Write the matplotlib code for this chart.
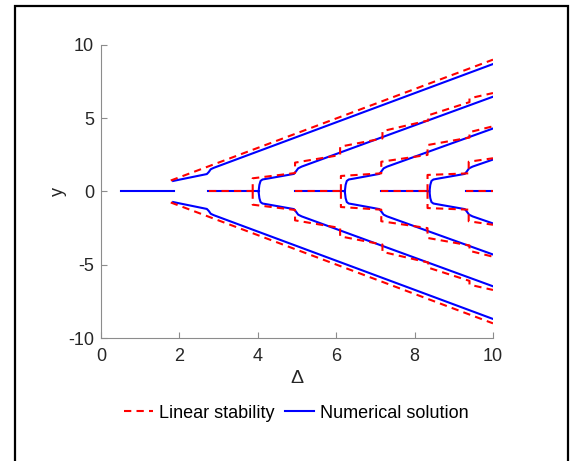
import numpy as np
import matplotlib.pyplot as plt
from matplotlib.patches import Rectangle

plt.rcParams['font.family'] = ['Liberation Sans', 'DejaVu Sans']
plt.rcParams['axes.unicode_minus'] = False

# numerical solution, upper halves of the branches (lower halves are mirrored)
blue_A_x = [1.84, 2.70, 2.75, 2.80, 2.88, 10.0]
blue_A_y = [0.72, 1.19, 1.33, 1.52, 1.62, 8.70]
blue_B_x = [4.02, 4.04, 4.07, 4.12, 4.25, 4.92, 4.97, 5.03, 5.12, 10.0]
blue_B_y = [0.00, 0.45, 0.72, 0.82, 0.88, 1.20, 1.36, 1.58, 1.70, 6.47]
blue_C_x = [6.22, 6.24, 6.27, 6.32, 6.45, 7.10, 7.15, 7.21, 7.30, 10.0]
blue_C_y = [0.00, 0.45, 0.72, 0.82, 0.88, 1.20, 1.36, 1.58, 1.70, 4.30]
blue_D_x = [8.38, 8.40, 8.43, 8.48, 8.60, 9.28, 9.33, 9.39, 9.48, 10.0]
blue_D_y = [0.00, 0.45, 0.72, 0.82, 0.88, 1.20, 1.36, 1.58, 1.70, 2.18]
blue_zero = [(0.5, 1.86), (2.74, 4.02), (4.96, 6.22), (7.14, 8.38), (9.30, 10.0)]

# linear stability
red_A_x = [1.78, 10.0]
red_A_y = [0.75, 9.00]
red_B_x = [3.87, 3.87, 4.95, 4.95, 6.10, 6.10, 7.18, 7.18, 8.35, 8.35, 9.40, 9.40, 10.0]
red_B_y = [0.00, 0.90, 1.26, 1.97, 2.49, 3.06, 3.62, 4.12, 4.85, 5.20, 6.10, 6.36, 6.72]
red_C_x = [6.12, 6.12, 7.15, 7.15, 8.33, 8.33, 9.40, 9.40, 10.0]
red_C_y = [0.00, 1.06, 1.24, 2.03, 2.50, 3.17, 3.68, 4.05, 4.45]
red_D_x = [8.33, 8.33, 9.38, 9.38, 10.0]
red_D_y = [0.00, 1.13, 1.24, 2.03, 2.27]
red_zero = [(2.76, 3.99), (4.96, 6.18), (7.15, 8.39), (9.30, 10.0)]

blue_branches = [(blue_A_x, blue_A_y), (blue_B_x, blue_B_y),
                 (blue_C_x, blue_C_y), (blue_D_x, blue_D_y)]
red_branches = [(red_A_x, red_A_y), (red_B_x, red_B_y),
                (red_C_x, red_C_y), (red_D_x, red_D_y)]

fig = plt.figure(figsize=(5.7, 4.61), dpi=100)
ax = fig.add_axes([0.1772, 0.2668, 0.6877, 0.6356])

blue = '#0000ff'
red = '#ff0000'
lw = 1.5
dash = (3.5, 2.5)

for bx, by in blue_branches:
    by = np.array(by)
    ax.plot(bx, by, color=blue, lw=lw)
    ax.plot(bx, -by, color=blue, lw=lw)
for a, b in blue_zero:
    ax.plot([a, b], [0, 0], color=blue, lw=lw)

for rx, ry in red_branches:
    ry = np.array(ry)
    ax.plot(rx, ry, color=red, lw=lw, dashes=dash)
    ax.plot(rx, -ry, color=red, lw=lw, dashes=dash)
for a, b in red_zero:
    ax.plot([a, b], [0, 0], color=red, lw=lw, dashes=dash)

# legend handles
h_red, = ax.plot([], [], color=red, lw=lw, dashes=dash, label='Linear stability')
h_blue, = ax.plot([], [], color=blue, lw=lw, label='Numerical solution')

ax.set_xlim(0, 10)
ax.set_ylim(-10, 10)
ax.set_xticks([0, 2, 4, 6, 8, 10])
ax.set_yticks([-10, -5, 0, 5, 10])
for s in ['top', 'right']:
    ax.spines[s].set_visible(False)
for s in ['left', 'bottom']:
    ax.spines[s].set_color('#8c8c8c')
    ax.spines[s].set_linewidth(0.8)
ax.tick_params(direction='in', length=4, width=0.8, color='#8c8c8c',
               labelsize=13, labelcolor='#262626')
ax.tick_params(axis='x', pad=7)
ax.tick_params(axis='y', pad=5)
ax.set_xlabel('Δ', fontsize=14, color='#262626', labelpad=4)
ax.set_ylabel('y', fontsize=13, color='#262626', labelpad=1)

fig.legend(handles=[h_red, h_blue], loc='center', bbox_to_anchor=(0.52, 0.104),
           ncol=2, frameon=False, fontsize=13, handlelength=1.6,
           handletextpad=0.35, columnspacing=0.6)

fig.patches.append(Rectangle((15 / 570, -0.1), 553 / 570, 1.1 - 6.5 / 461,
                             transform=fig.transFigure, fill=False,
                             ec='black', lw=1.6, clip_on=False))

fig.savefig('out.png', dpi=100)
